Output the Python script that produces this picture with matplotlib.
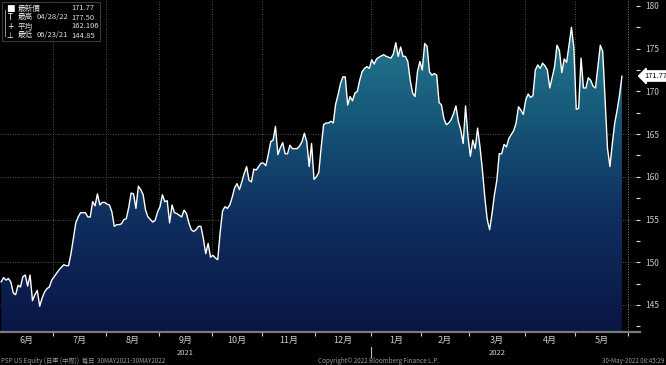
import numpy as np
import matplotlib
matplotlib.use('Agg')
import matplotlib.pyplot as plt
from matplotlib.colors import LinearSegmentedColormap
from matplotlib.patches import Rectangle
import matplotlib.transforms as mtransforms

plt.rcParams['font.family'] = ['Noto Sans CJK TC', 'DejaVu Sans']

# ---- data: weekday number since 2021-06-01, closing price ----
day = [0, 1, 2, 3, 4, 5, 6, 7, 8, 9, 10, 11, 12, 13, 14, 15, 16, 17, 18, 19,
       20, 21, 22, 23, 24, 25, 26, 27, 28, 29, 30, 31, 32, 33, 34, 35, 36, 37, 38, 39,
       40, 41, 42, 43, 44, 45, 46, 47, 48, 49, 50, 51, 52, 53, 54, 55, 56, 57, 58, 59,
       60, 61, 63, 64, 65, 66, 67, 68, 69, 70, 71, 72, 73, 74, 75, 76, 77, 78, 79, 80,
       81, 82, 83, 84, 85, 86, 87, 88, 89, 90, 91, 92, 93, 94, 95, 96, 97, 98, 99, 100,
       101, 102, 103, 104, 105, 106, 108, 109, 110, 111, 112, 113, 114, 115, 116, 117, 118, 119, 120, 121,
       123, 124, 125, 126, 127, 128, 129, 130, 131, 132, 133, 134, 135, 136, 137, 138, 139, 140, 141, 142,
       143, 144, 145, 146, 147, 148, 149, 150, 151, 152, 153, 154, 155, 156, 157, 159, 160, 162, 163, 164,
       165, 166, 167, 168, 169, 170, 171, 172, 173, 174, 175, 176, 177, 178, 179, 180, 181, 182, 183, 184,
       185, 186, 187, 188, 189, 190, 191, 192, 193, 194, 195, 196, 197, 198, 199, 200, 201, 202, 203, 204,
       205, 206, 207, 208, 209, 210, 211, 213, 214, 215, 216, 217, 218, 219, 220, 221, 222, 223, 224, 225,
       226, 227, 228, 230, 231, 232, 233, 234, 235, 236, 237, 238, 239, 240, 241, 242, 243, 244, 245, 246,
       247, 248, 249, 250, 251, 252, 253, 254, 255, 256, 257, 258]
price = [147.7, 148.2, 147.9, 148.1, 147.7, 146.4, 146.2, 147.3, 147.1, 148.3, 148.5, 147.2, 148.5, 145.5, 146.2, 146.7, 144.85, 145.8, 146.5, 146.9,
         147.1, 147.9, 148.3, 148.7, 149.1, 149.4, 149.7, 149.6, 149.6, 151.0, 152.8, 154.6, 155.3, 155.8, 155.8, 155.8, 155.3, 155.3, 157.1, 156.6,
         158.0, 156.7, 157.0, 157.0, 156.8, 156.7, 155.9, 154.2, 154.4, 154.4, 154.5, 155.0, 155.1, 156.4, 158.1, 158.0, 156.3, 158.9, 158.5, 157.9,
         156.1, 155.3, 154.7, 154.9, 155.9, 156.5, 157.9, 157.1, 157.2, 154.6, 156.7, 155.8, 155.7, 155.5, 155.3, 156.1, 155.7, 154.6, 153.8, 153.6,
         153.8, 154.2, 154.2, 152.8, 151.0, 152.2, 150.6, 150.8, 150.5, 150.3, 153.5, 156.0, 156.5, 156.3, 156.7, 157.6, 158.7, 159.2, 158.5, 159.4,
         160.4, 161.2, 159.6, 159.4, 160.9, 160.8, 161.6, 161.6, 161.3, 162.6, 164.1, 164.3, 165.9, 162.6, 163.4, 164.0, 162.7, 162.7, 163.7, 163.3,
         163.3, 163.6, 164.1, 165.1, 164.1, 161.2, 163.9, 159.7, 160.0, 160.5, 163.5, 166.1, 166.3, 166.3, 166.5, 166.3, 168.5, 169.6, 170.9, 171.7,
         171.7, 168.4, 169.4, 168.9, 169.8, 170.0, 171.3, 172.3, 172.7, 172.9, 172.7, 173.7, 173.2, 173.8, 174.0, 174.3, 174.1, 173.9, 174.4, 175.7,
         174.1, 175.2, 174.1, 174.1, 173.5, 171.3, 169.8, 169.4, 172.3, 173.5, 172.5, 175.6, 175.3, 172.3, 171.9, 172.1, 171.9, 168.7, 168.4, 166.8,
         166.1, 166.3, 166.7, 167.4, 168.3, 166.5, 165.5, 163.9, 168.3, 164.7, 162.4, 164.3, 163.3, 165.7, 163.5, 160.8, 157.6, 155.0, 153.8, 155.7,
         157.9, 159.6, 162.7, 162.7, 163.8, 163.5, 164.5, 165.4, 166.3, 168.2, 167.8, 167.3, 169.0, 169.7, 169.3, 169.5, 172.5, 173.1, 172.7, 173.3,
         173.0, 172.5, 170.4, 172.9, 175.4, 174.8, 172.2, 173.8, 173.4, 175.4, 177.5, 175.2, 167.9, 168.0, 173.9, 170.4, 170.4, 171.6, 171.3, 170.6,
         170.4, 172.9, 175.4, 174.7, 169.0, 163.3, 161.2, 163.9, 166.3, 167.8, 169.6, 171.77]

month_labels = ['6月', '7月', '8月', '9月', '10月', '11月', '12月', '1月', '2月', '3月', '4月', '5月']
year_labels = ['2021', '2022']
y_major = [145, 150, 155, 160, 165, 170, 175, 180]
y_grid = [145, 150, 155, 160, 165]
last_price = 171.77
legend_rows = [('最新價', '', '171.77'), ('最高', '04/28/22', '177.50'),
               ('平均', '', '162.106'), ('最低', '06/23/21', '144.85')]

W, H = 666, 365
fig = plt.figure(figsize=(W / 100, H / 100), dpi=100, facecolor='black')
ax = fig.add_axes([0, 33 / H, 640 / W, 332 / H])
ax.set_facecolor('black')

start = np.datetime64('2021-06-01')
month_starts = np.arange(np.datetime64('2021-06'), np.datetime64('2022-07'),
                         dtype='datetime64[M]').astype('datetime64[D]')
bounds = np.busday_count(start, month_starts) - 0.5
centers = (bounds[:-1] + bounds[1:]) / 2

x0, x1 = -0.5, 265.5
y0, y1 = 141.83, 180.70
ax.set_xlim(x0, x1)
ax.set_ylim(y0, y1)

# gridlines
for v in y_grid:
    ax.axhline(v, color='#6a6a6a', lw=0.6, ls=(0, (1, 2)), zorder=1)
for i, b in enumerate(bounds[1:]):
    if i == 5:
        continue
    ax.axvline(b, color='#6a6a6a', lw=0.6, ls=(0, (1, 2)), zorder=1)

# gradient fill
cmap = LinearSegmentedColormap.from_list('g', [(0.0, '#0a1545'), (0.35, '#0f2f5f'),
                                               (0.65, '#165878'), (1.0, '#2a8498')])
grad = np.linspace(0, 1, 256).reshape(-1, 1)
im = ax.imshow(grad, cmap=cmap, aspect='auto', origin='lower',
               extent=(x0, x1, y0, y1), zorder=2)
poly = ax.fill_between(day, price, y0, color='none', lw=0)
im.set_clip_path(poly.get_paths()[0], transform=ax.transData)
ax.plot(day, price, color='white', lw=1.0, zorder=4)

# spines
for s in ['top', 'left', 'right']:
    ax.spines[s].set_visible(False)
ax.spines['bottom'].set_color('#7a7a7a')
ax.spines['bottom'].set_linewidth(1.6)

# y axis on right
ax.yaxis.set_ticks_position('right')
ax.set_yticks(y_major)
ax.set_yticklabels([str(v) for v in y_major])
ax.set_yticks([v + 2.5 for v in [140] + y_major[:-1]], minor=True)
ax.tick_params(axis='y', which='both', direction='in', length=3, width=0.8,
               color='#dddddd', labelcolor='#c8c8c8', labelsize=6, pad=4)

# x axis
ax.set_xticks(bounds[1:])
ax.set_xticklabels([])
ax.set_xticks(centers, minor=True)
ax.set_xticklabels(month_labels, minor=True)
ax.tick_params(axis='x', which='major', direction='out', length=3, width=0.8, color='#cccccc')
ax.tick_params(axis='x', which='minor', length=0, labelcolor='#cccccc', labelsize=6.5, pad=3)

# year labels
trans = mtransforms.blended_transform_factory(ax.transData, ax.transAxes)
ax.text(centers[3], -0.062, year_labels[0], transform=trans, ha='center', va='center',
        color='#cccccc', fontsize=5.5)
ax.text(centers[9], -0.062, year_labels[1], transform=trans, ha='center', va='center',
        color='#cccccc', fontsize=5.5)
ax.plot([bounds[7], bounds[7]], [-0.045, -0.075], transform=trans, color='#bbbbbb',
        lw=0.8, clip_on=False)

# right edge dotted line
ax.axvline(bounds[-1], color='#8a8a8a', lw=0.6, ls=(0, (1, 2)), zorder=5)

# last price tag
fig.text(644 / W, 1 - 76 / H, f'{last_price:.2f}', ha='left', va='center', fontsize=5.5,
         color='black', bbox=dict(boxstyle='larrow,pad=0.15', fc='white', ec='white'))

# legend box
fig.patches.append(Rectangle((2 / W, 1 - 41 / H), 98 / W, 39 / H, transform=fig.transFigure,
                             fc='black', ec='#3a3a3a', lw=0.8, zorder=10))
row_y = [8.5, 17.5, 26.5, 35.5]
markers = ['■', 'T', '+', '⊥']
for (lab, dt, val), ry, mk in zip(legend_rows, row_y, markers):
    fig.text(10 / W, 1 - ry / H, mk, ha='center', va='center',
             fontsize=5.5 if mk != '■' else 6.5, color='white', zorder=11,
             family=['DejaVu Sans'])
    fig.text(18 / W, 1 - ry / H, lab, ha='left', va='center', fontsize=5.5, color='#dddddd', zorder=11)
    if dt:
        fig.text(37 / W, 1 - ry / H, dt, ha='left', va='center', fontsize=5.5, color='#dddddd', zorder=11)
    fig.text(71 / W, 1 - ry / H, val, ha='left', va='center', fontsize=5.5, color='#dddddd', zorder=11)
fig.add_artist(plt.Line2D([5 / W, 5 / W], [1 - 10 / H, 1 - 36 / H], color='#aaaaaa', lw=0.6, zorder=11))

# footer
fig.text(1 / W, 1 - 361 / H, 'PSP US Equity (日率 (中際))  每日  30MAY2021-30MAY2022', ha='left',
         va='center', fontsize=4.5, color='#9a9a9a')
fig.text(318 / W, 1 - 361 / H, 'Copyright© 2022 Bloomberg Finance L.P.', ha='left', va='center',
         fontsize=4.5, color='#9a9a9a')
fig.text(664 / W, 1 - 361 / H, '30-May-2022 08:45:29', ha='right', va='center', fontsize=4.5,
         color='#9a9a9a')

fig.savefig('out.png', dpi=100, facecolor='black')
